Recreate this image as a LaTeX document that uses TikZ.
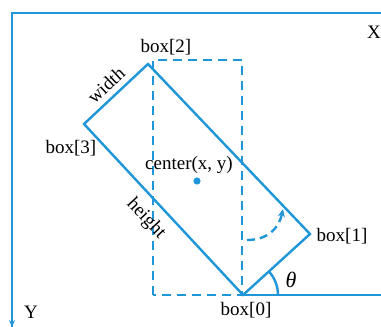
\documentclass[tikz,border=0pt]{standalone}
\usepackage{fontspec}
\setmainfont{Liberation Serif}
\usetikzlibrary{arrows.meta}
\definecolor{lblue}{RGB}{30,150,215}
\begin{document}
\begin{tikzpicture}[x=1pt,y=-1pt,
  solidline/.style={draw=lblue,line width=2.4pt},
  dashline/.style={draw=lblue,line width=2.4pt,dash pattern=on 9pt off 6pt},
  lbl/.style={font=\fontsize{19}{22}\selectfont,inner sep=0pt,text=black}]
\useasboundingbox (0,0) rectangle (381,327);
% axes
\coordinate (o) at (12,13);
\coordinate (xend) at (381,13);
\coordinate (yend) at (12,327);
\draw[solidline] (xend) -- (o) -- (yend);
\draw[draw=lblue,line width=1.6pt,-{Stealth[length=7pt,width=6pt]}] (12,310) -- (yend);
\node[lbl] (xl) at (374,32) {X};
\node[lbl] (yl) at (31,312) {Y};
% corners
\coordinate (b0) at (243,295);
\coordinate (b1) at (310,234);
\coordinate (b2) at (148,64);
\coordinate (b3) at (84,124);
\coordinate (rend) at (381,295);
% dashed rectangle
\draw[dashline] (153,295) -- (153,60) -- (242,60) -- (242,295) -- cycle;
% rotated box
\draw[solidline,line join=miter] (b0) -- (b1) -- (b2) -- (b3) -- cycle;
\draw[solidline] (b0) -- (rend);
% angle arc
\draw[solidline] ([shift={(0:35)}]b0) arc[start angle=0,end angle=-42.3,radius=35];
\node[lbl,font=\fontsize{22}{24}\selectfont\itshape] (th) at (291,280) {θ};
% center dot
\fill[lblue] (197,181) circle (3.6pt);
\node[lbl] (cl) at (189,165) {center(x, y)};
% rotation arrow
\coordinate (rs) at (247,240);
\coordinate (re) at (283,209);
\draw[draw=lblue,line width=2.4pt,dash pattern=on 8pt off 5pt,-{Stealth[length=8pt,width=7pt]}] (rs) .. controls (268,240) and (279,228) .. (re);
% labels
\node[lbl] (l2) at (166,47) {box[2]};
\node[lbl] (l3) at (71,148) {box[3]};
\node[lbl] (l1) at (342,236) {box[1]};
\node[lbl] (l0) at (246,310) {box[0]};
\node[lbl,rotate=43] (wl) at (106,85) {width};
\node[lbl,rotate=-47] (hl) at (146,219) {height};
\end{tikzpicture}
\end{document}
